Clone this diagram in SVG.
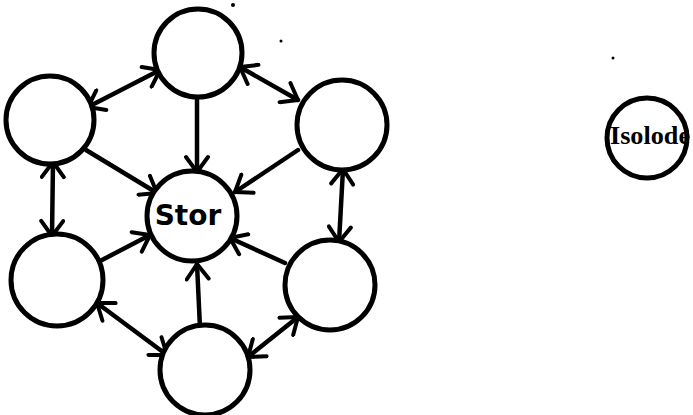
<svg xmlns="http://www.w3.org/2000/svg" width="693" height="415" viewBox="0 0 693 415">
<style>
.node{fill:#fff;stroke:#000;stroke-width:5}
.edge{fill:none;stroke:#000;stroke-width:4.5;stroke-linecap:round}
.lbl{font-family:"DejaVu Sans","Liberation Sans",sans-serif;font-weight:bold;fill:#000}
</style>
<defs>
<marker id="ah" markerUnits="userSpaceOnUse" viewBox="-18 -13 22 26" markerWidth="22" markerHeight="26" refX="0" refY="0" orient="auto-start-reverse">
<path d="M-15,-11 L0,0 L-15,11" fill="none" stroke="#000" stroke-width="4" stroke-linecap="round" stroke-linejoin="round"/>
</marker>
</defs>
<rect width="693" height="415" fill="#fff"/>
<g id="connectors">
<line class="edge" x1="160" y1="70" x2="88" y2="107" marker-start="url(#ah)" marker-end="url(#ah)"/>
<line class="edge" x1="240" y1="67" x2="298" y2="100" marker-start="url(#ah)" marker-end="url(#ah)"/>
<line class="edge" x1="197" y1="98" x2="197" y2="172" marker-end="url(#ah)"/>
<line class="edge" x1="86" y1="150" x2="157" y2="193" marker-end="url(#ah)"/>
<line class="edge" x1="298" y1="150" x2="235" y2="192" marker-end="url(#ah)"/>
<line class="edge" x1="53" y1="162" x2="52" y2="236" marker-start="url(#ah)" marker-end="url(#ah)"/>
<line class="edge" x1="343" y1="169" x2="339" y2="242" marker-start="url(#ah)" marker-end="url(#ah)"/>
<line class="edge" x1="102" y1="260" x2="150" y2="235" marker-end="url(#ah)"/>
<line class="edge" x1="285" y1="263" x2="230" y2="238" marker-end="url(#ah)"/>
<line class="edge" x1="200" y1="328" x2="197" y2="264" marker-end="url(#ah)"/>
<line class="edge" x1="97" y1="303" x2="167" y2="355" marker-start="url(#ah)" marker-end="url(#ah)"/>
<line class="edge" x1="298" y1="317" x2="248" y2="357" marker-start="url(#ah)" marker-end="url(#ah)"/>
</g>
<g id="top"><circle class="node" cx="198" cy="53" r="44"/></g>
<g id="upper-left"><circle class="node" cx="50" cy="120" r="44"/></g>
<g id="upper-right"><circle class="node" cx="342" cy="125" r="45"/></g>
<g id="star"><circle class="node" cx="192" cy="216" r="45"/><text class="lbl" x="188" y="225" font-size="28" text-anchor="middle">Stor</text></g>
<g id="lower-left"><circle class="node" cx="57" cy="280" r="46"/></g>
<g id="lower-right"><circle class="node" cx="330" cy="285" r="45"/></g>
<g id="bottom"><circle class="node" cx="205" cy="370" r="45"/></g>
<g id="isolode"><circle class="node" cx="647" cy="138" r="40"/><text x="650" y="144" font-family="'Liberation Serif',serif" font-weight="bold" font-size="25" text-anchor="middle" textLength="80" lengthAdjust="spacingAndGlyphs">Isolode</text></g>
<g id="specks" fill="#000"><circle cx="233" cy="5" r="2"/><circle cx="281" cy="41" r="1.5"/><circle cx="613" cy="58" r="1.5"/></g>
</svg>
